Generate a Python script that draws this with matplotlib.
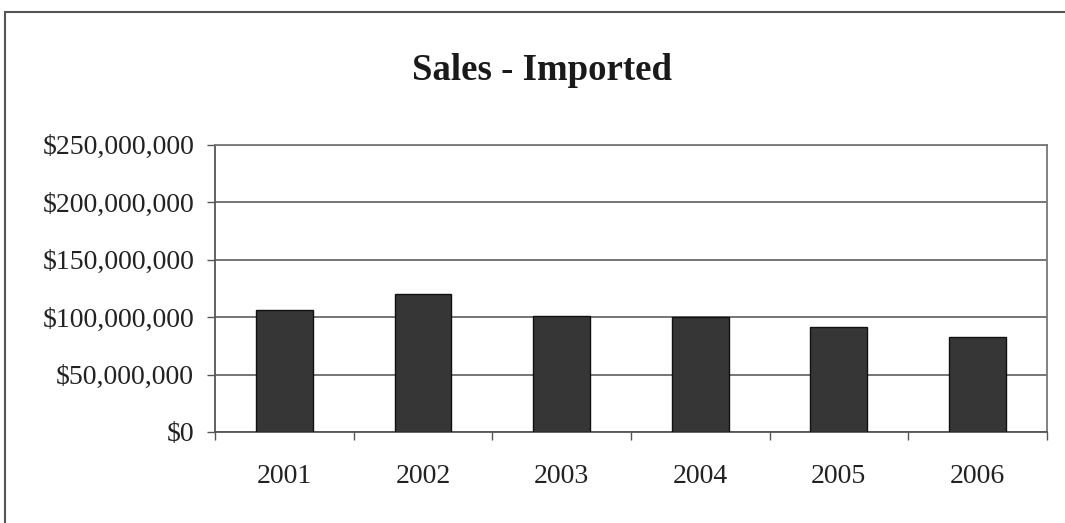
import matplotlib
matplotlib.use("Agg")
import matplotlib.pyplot as plt
from matplotlib.patches import Rectangle
from matplotlib.ticker import FuncFormatter, FixedLocator
import numpy as np

years = ["2001", "2002", "2003", "2004", "2005", "2006"]
sales = [106000000, 120000000, 101000000, 100000000, 91500000, 83000000]
title = "Sales - Imported"

plt.rcParams['font.family'] = ['Liberation Serif', 'DejaVu Serif']

fig = plt.figure(figsize=(10.65, 5.23), dpi=100)
ax = fig.add_axes([0.2019, 0.174, 0.781, 0.549])

x = np.arange(len(years))
ax.bar(x, sales, width=0.41, color='#363636', edgecolor='#111111', linewidth=1, zorder=3)

ax.set_xlim(-0.5, len(years) - 0.5)
ax.set_ylim(0, 250000000)
ax.set_yticks(np.arange(0, 250000001, 50000000))
ax.yaxis.set_major_formatter(FuncFormatter(lambda v, p: "${:,.0f}".format(v)))
ax.grid(axis='y', color='#6a6a6a', linewidth=1.3, zorder=1)

# labels at centres, tick marks at category boundaries
ax.set_xticks(x)
ax.set_xticklabels(years)
ax.xaxis.set_minor_locator(FixedLocator(np.arange(-0.5, len(years), 1.0)))
ax.tick_params(axis='x', which='major', length=0, pad=23, labelsize=20, colors='#222222')
ax.tick_params(axis='x', which='minor', length=6, width=1, color='#555555', direction='out')
ax.tick_params(axis='y', length=6, width=1, color='#555555', pad=9, labelsize=20, labelcolor='#222222')

for s in ['top', 'right']:
    ax.spines[s].set_color('#777777')
    ax.spines[s].set_linewidth(1.3)
for s in ['left', 'bottom']:
    ax.spines[s].set_color('#555555')
    ax.spines[s].set_linewidth(1.3)

fig.text(0.509, 0.865, title, ha='center', va='center', fontsize=26.5, fontweight='bold', color='#1a1a1a')

# outer chart border (runs off the right and bottom of the scan)
fig.patches.append(Rectangle((0.0047, -0.05), 1.2, 0.977 + 0.05, transform=fig.transFigure,
                             fill=False, edgecolor='#555555', linewidth=1.5, clip_on=False))

fig.savefig("out.png", dpi=100)
